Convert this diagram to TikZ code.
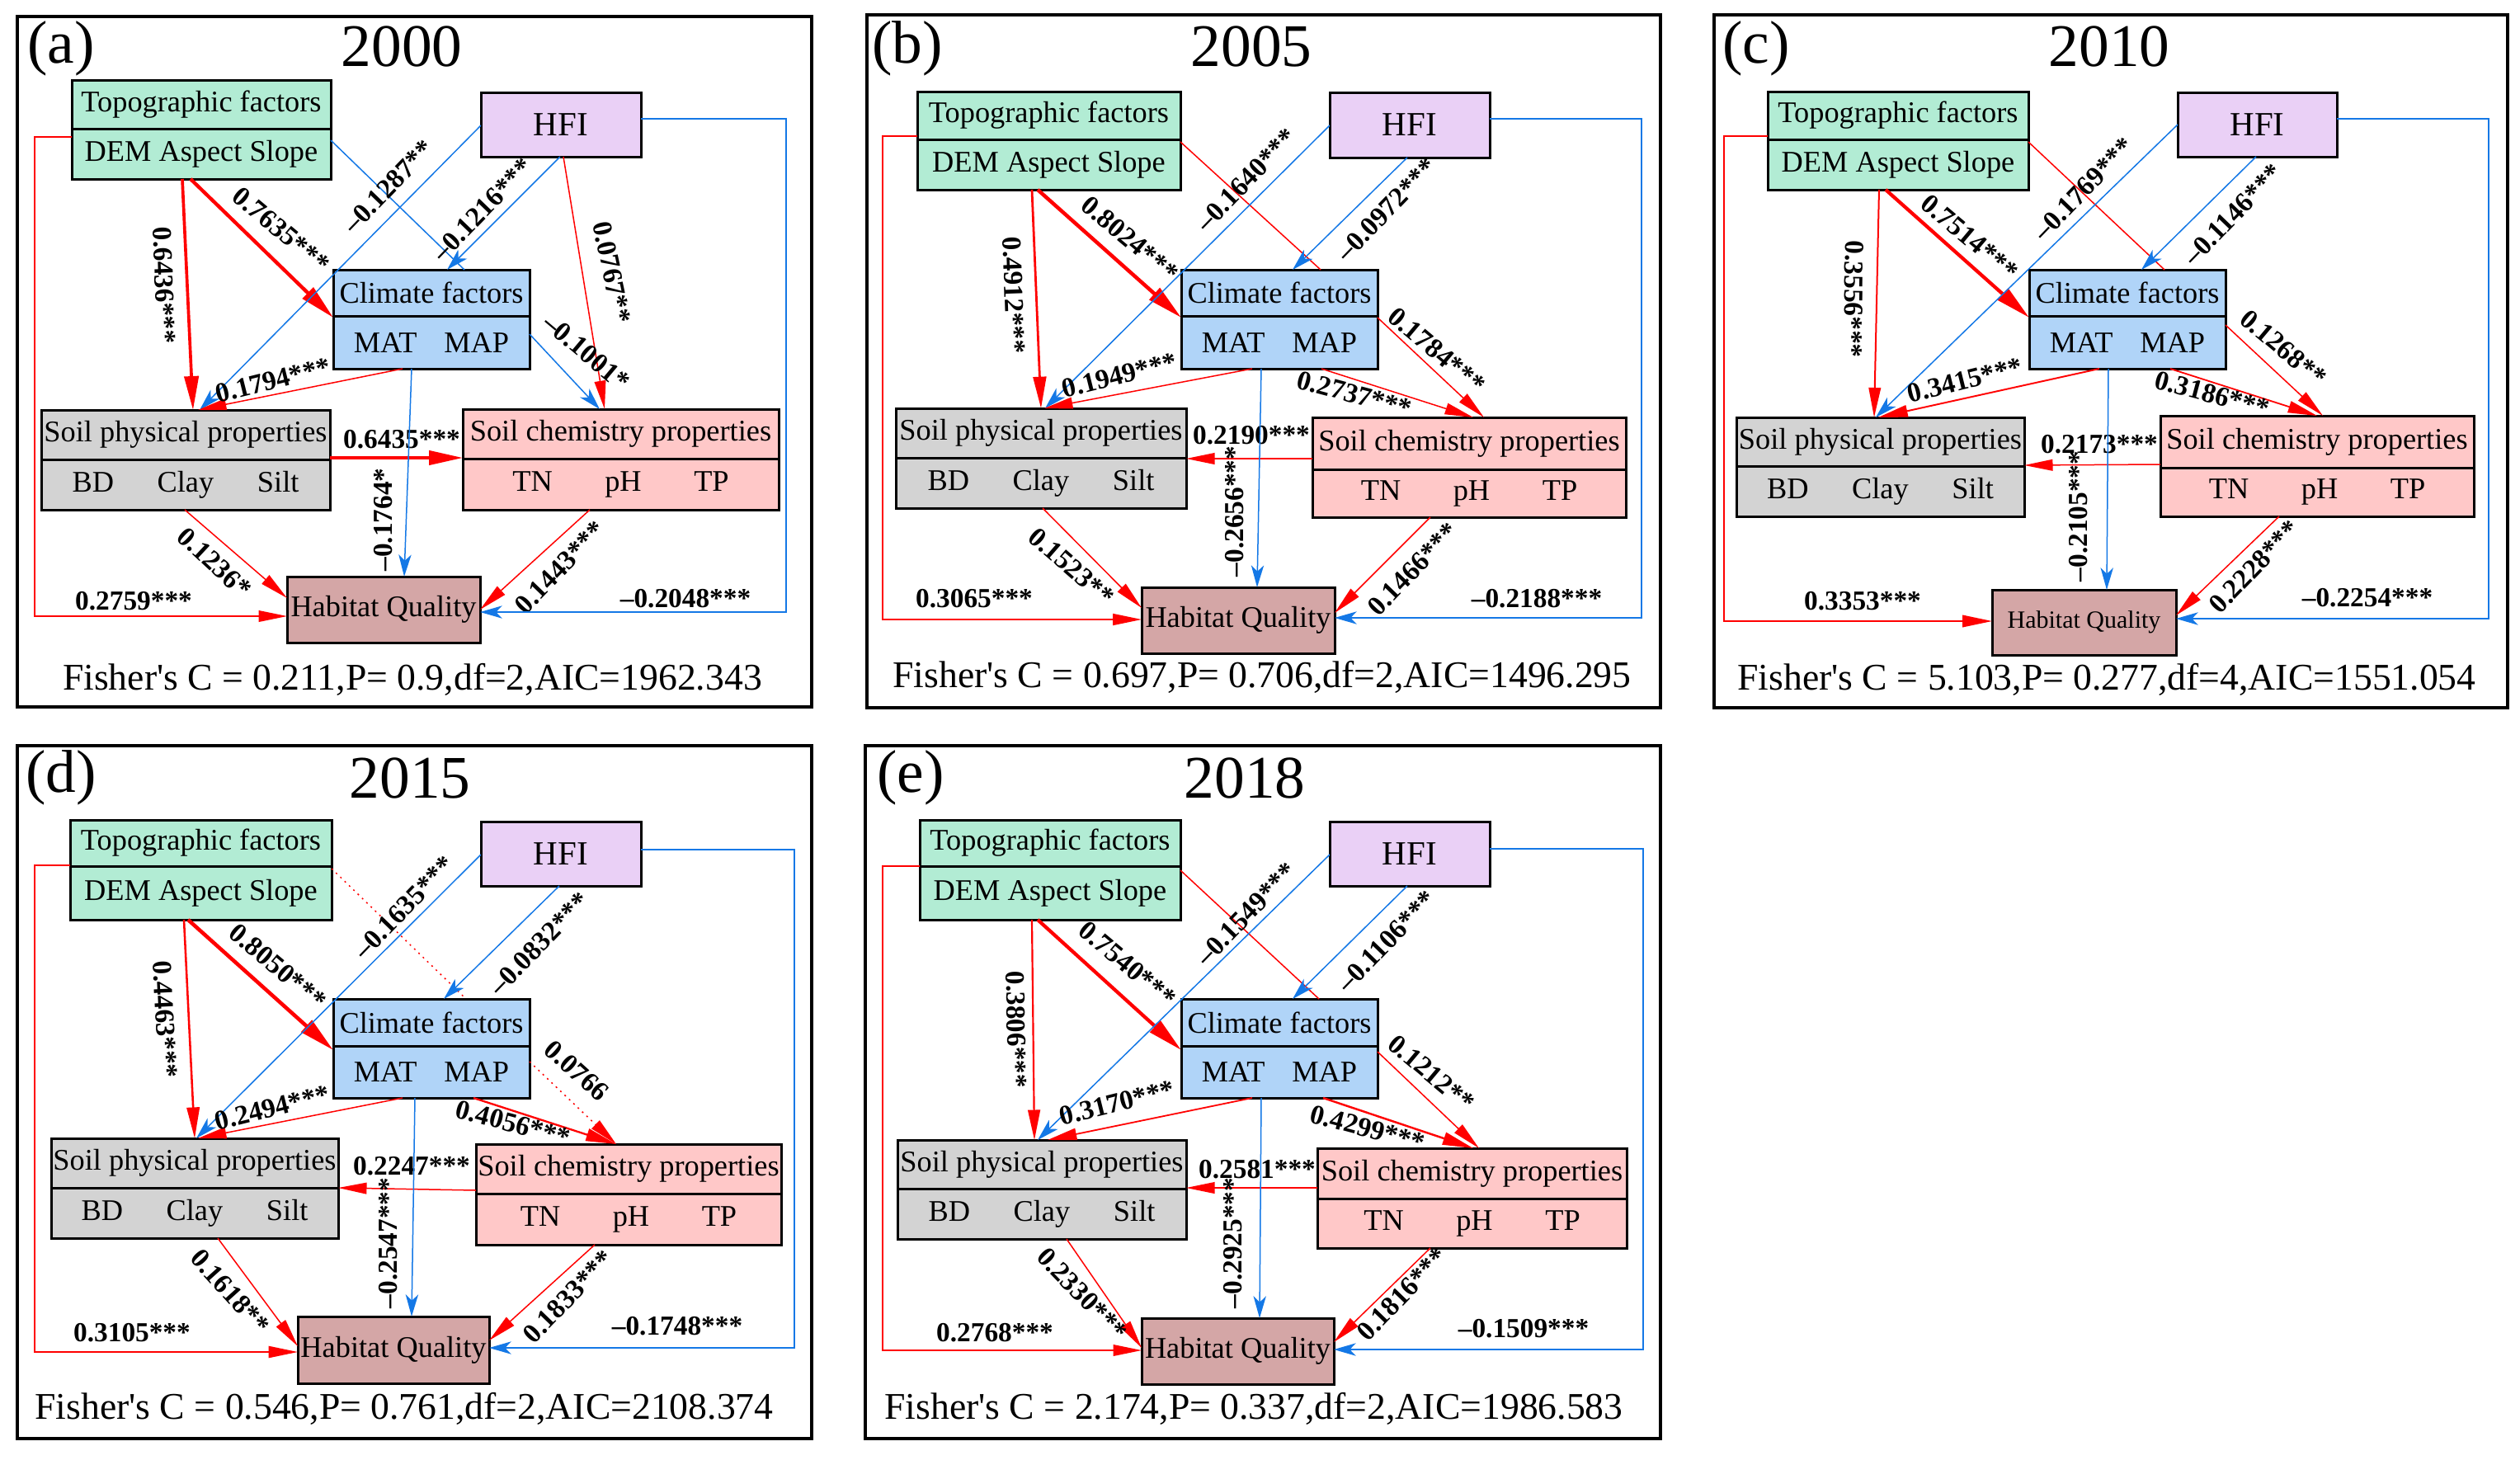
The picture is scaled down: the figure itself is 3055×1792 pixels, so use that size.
\documentclass[tikz,border=0pt]{standalone}
\usepackage{fontspec}
\setmainfont{Liberation Serif}
\newfontfamily\plainserif{Liberation Serif}
\usetikzlibrary{arrows.meta,fit,calc}
\definecolor{topoc}{RGB}{178,236,212}
\definecolor{hfic}{RGB}{234,208,246}
\definecolor{climc}{RGB}{176,212,248}
\definecolor{physc}{RGB}{211,211,211}
\definecolor{chemc}{RGB}{255,200,200}
\definecolor{hqc}{RGB}{212,166,166}
\definecolor{myred}{RGB}{255,0,0}
\definecolor{myblue}{RGB}{20,120,230}
\tikzset{
  pframe/.style={draw=black,line width=1.3pt},
  boxbase/.style={draw=black,line width=0.9pt,inner sep=0pt,outer sep=0pt,rectangle},
  boxtxt/.style={inner sep=0pt,font=\fontsize{10.9}{13}\selectfont},
  ttl/.style={inner sep=0pt,font=\fontsize{22}{26}\selectfont},
  fisher/.style={inner sep=0pt,font=\plainserif\fontsize{13.7}{16}\selectfont},
  lab/.style={inner sep=0pt,font=\bfseries\fontsize{10}{12}\selectfont},
  rarr/.style={draw=myred,line width=#1,-{Triangle[length=9pt 3,width=3.4pt 1.6]}},
  rarr/.default=0.45pt,
  barr/.style={draw=myblue,line width=0.45pt,-{Stealth[length=8pt,width=4.6pt,inset=2.2pt]}},
  rline/.style={draw=myred,line width=0.45pt},
  bline/.style={draw=myblue,line width=0.45pt},
  rdot/.style={dash pattern=on 0.6pt off 1.6pt},
}
\newcommand\twobox[9]{%
  \node[boxbase,fill=#7,fit={(#2,#3) (#4,#5)}] (#1) {};
  \draw[boxbase] (#1.west |- 0,#6) -- (#1.east |- 0,#6);
  \node[boxtxt] (#1-top) at ($(#1.north)!0.5!(#1.north |- 0,#6)$) {#8};
  \node[boxtxt] (#1-bot) at ($(#1.south)!0.5!(#1.south |- 0,#6)$) {#9};
}
\newcommand\onebox[7]{%
  \node[boxbase,fill=#6,fit={(#2,#3) (#4,#5)}] (#1) {};
  \node[boxtxt] (#1-t) at (#1.center) {#7};
}
\newcommand\hfitext{\fontsize{12.3}{14}\selectfont HFI}
\begin{document}
\begin{tikzpicture}[x=0.3pt,y=-0.3pt]
\useasboundingbox (0,0) rectangle (3055,1792);
\fill[white] (0,0) rectangle (3055,1792);

% ---------------- (a) 2000 ----------------
\begin{scope}[shift={(21,20)}]
\draw[pframe] (0,0) rectangle (963,837);
\node[ttl] (a-tag) at (53,39) {(a)};
\node[ttl] (a-year) at (466,36) {2000};
\twobox{a-topo}{66}{77}{380}{197}{136}{topoc}{Topographic factors}{DEM Aspect Slope}
\onebox{a-hfi}{562}{92}{756}{170}{hfic}{\hfitext}
\twobox{a-clim}{383}{307}{621}{427}{363}{climc}{Climate factors}{MAT\hspace{0.9em}MAP}
\twobox{a-phys}{29}{477}{379}{598}{537}{physc}{Soil physical properties}{BD\hspace{1.45em}Clay\hspace{1.45em}Silt\hspace{1.2em}}
\twobox{a-chem}{540}{476}{923}{598}{536}{chemc}{Soil chemistry properties}{TN\hspace{1.75em}pH\hspace{1.75em}TP\hspace{1.4em}}
\onebox{a-hq}{327}{679}{561}{759}{hqc}{Habitat Quality}
\node[fisher] (a-fisher) at (479,804) {Fisher's C = 0.211,P= 0.9,df=2,AIC=1962.343};
\draw[rarr=1.3pt] (a-topo.south -| 210,0) -- (a-clim.west |- 0,365);
\node[lab,rotate=-40] (a-l1) at (320,259) {0.7635***};
\draw[rarr=1.1pt] (a-topo.south -| 200,0) -- (a-phys.north -| 213,0);
\node[lab,rotate=-88] (a-l2) at (178,326) {0.6436***};
\draw[bline] (a-topo.east |- 0,150) -- (a-clim.north -| 542,0);
\draw[barr] (a-hfi.south -| 658,0) -- (a-clim.north -| 521,0);
\node[lab,rotate=46] (a-l4) at (564,234) {--0.1216***};
\draw[barr] (a-hfi.west |- 0,132) -- (a-phys.north -| 221,0);
\node[lab,rotate=46] (a-l5) at (450,206) {--0.1287**};
\draw[rarr] (a-hfi.south -| 662,0) -- (a-chem.north -| 712,0);
\node[lab,rotate=-78] (a-l6) at (721,310) {0.0767**};
\draw[rarr] (a-clim.south -| 467,0) -- (a-phys.north -| 219,0);
\node[lab,rotate=14] (a-l7) at (310,441) {0.1794***};
\draw[barr] (a-clim.east |- 0,385) -- (a-chem.north -| 706,0);
\node[lab,rotate=-40] (a-l8) at (690,407) {--0.1001*};
\draw[rarr=1.1pt] (a-phys.east |- 0,535) -- (a-chem.west |- 0,535);
\node[lab] (a-l9) at (466,513) {0.6435***};
\draw[barr] (a-clim.south -| 478,0) -- (a-hq.north -| 469,0);
\node[lab,rotate=90] (a-l10) at (444,610) {--0.1764*};
\draw[rarr] (a-phys.south -| 203,0) -- (a-hq.west |- 0,705);
\node[lab,rotate=-43] (a-l11) at (239,662) {0.1236*};
\draw[rarr] (a-chem.south -| 694,0) -- (a-hq.east |- 0,719);
\node[lab,rotate=46] (a-l12) at (658,668) {0.1443***};
\draw[rarr] (a-topo.west |- 0,146) -- (21,146) -- (21,727) -- (a-hq.west |- 0,727);
\node[lab] (a-l13) at (141,709) {0.2759***};
\draw[barr] (a-hfi.east |- 0,124) -- (932,124) -- (932,722) -- (a-hq.east |- 0,722);
\node[lab] (a-l14) at (810,706) {--0.2048***};
\end{scope}

% ---------------- (b) 2005 ----------------
\begin{scope}[shift={(1051,18)}]
\draw[pframe] (0,0) rectangle (962,840);
\node[ttl] (b-tag) at (49,41) {(b)};
\node[ttl] (b-year) at (466,38) {2005};
\twobox{b-topo}{61}{93}{380}{212}{151}{topoc}{Topographic factors}{DEM Aspect Slope}
\onebox{b-hfi}{561}{94}{755}{173}{hfic}{\hfitext}
\twobox{b-clim}{381}{309}{619}{429}{365}{climc}{Climate factors}{MAT\hspace{0.9em}MAP}
\twobox{b-phys}{35}{477}{387}{598}{537}{physc}{Soil physical properties}{BD\hspace{1.45em}Clay\hspace{1.45em}Silt}
\twobox{b-chem}{540}{488}{920}{609}{551}{chemc}{Soil chemistry properties}{TN\hspace{1.75em}pH\hspace{1.75em}TP\hspace{0.45em}}
\onebox{b-hq}{333}{694}{567}{774}{hqc}{Habitat Quality}
\node[fisher] (b-fisher) at (479,803) {Fisher's C = 0.697,P= 0.706,df=2,AIC=1496.295};
\draw[rarr=1.35pt] (b-topo.south -| 207,0) -- (b-clim.west |- 0,367);
\node[lab,rotate=-40] (b-l1) at (319,272) {0.8024***};
\draw[rarr=0.83pt] (b-topo.south -| 200,0) -- (b-phys.north -| 211,0);
\node[lab,rotate=-88] (b-l2) at (178,340) {0.4912***};
\draw[rline] (b-topo.east |- 0,154) -- (b-clim.north -| 550,0);
\draw[barr] (b-hfi.south -| 655,0) -- (b-clim.north -| 516,0);
\node[lab,rotate=46] (b-l4) at (630,236) {--0.0972***};
\draw[barr] (b-hfi.west |- 0,134) -- (b-phys.north -| 216,0);
\node[lab,rotate=46] (b-l5) at (460,200) {--0.1640***};
\draw[rarr] (b-clim.south -| 467,0) -- (b-phys.north -| 215,0);
\node[lab,rotate=14] (b-l6) at (306,437) {0.1949***};
\draw[rarr] (b-clim.east |- 0,367) -- (b-chem.north -| 748,0);
\node[lab,rotate=-40] (b-l7) at (691,407) {0.1784***};
\draw[rarr] (b-clim.south -| 551,0) -- (b-chem.north -| 735,0);
\node[lab,rotate=-15] (b-l8) at (591,460) {0.2737***};
\draw[rarr] (b-chem.west |- 0,538) -- (b-phys.east |- 0,538);
\node[lab] (b-l9) at (466,510) {0.2190***};
\draw[barr] (b-clim.south -| 478,0) -- (b-hq.north -| 473,0);
\node[lab,rotate=90] (b-l10) at (446,602) {--0.2656***};
\draw[rarr] (b-phys.south -| 213,0) -- (b-hq.west |- 0,719);
\node[lab,rotate=-41] (b-l11) at (248,669) {0.1523**};
\draw[rarr] (b-chem.south -| 683,0) -- (b-hq.east |- 0,725);
\node[lab,rotate=46] (b-l12) at (662,672) {0.1466***};
\draw[rarr=0.5pt] (b-topo.west |- 0,147) -- (19,147) -- (19,733) -- (b-hq.west |- 0,733);
\node[lab] (b-l13) at (130,708) {0.3065***};
\draw[barr] (b-hfi.east |- 0,126) -- (939,126) -- (939,731) -- (b-hq.east |- 0,731);
\node[lab] (b-l14) at (812,708) {--0.2188***};
\end{scope}

% ---------------- (c) 2010 ----------------
\begin{scope}[shift={(2078,18)}]
\draw[pframe] (0,0) rectangle (962,840);
\node[ttl] (c-tag) at (51,41) {(c)};
\node[ttl] (c-year) at (479,38) {2010};
\twobox{c-topo}{65}{93}{381}{212}{151}{topoc}{Topographic factors}{DEM Aspect Slope}
\onebox{c-hfi}{562}{94}{755}{172}{hfic}{\hfitext}
\twobox{c-clim}{382}{309}{620}{429}{365}{climc}{Climate factors}{MAT\hspace{0.9em}MAP}
\twobox{c-phys}{27}{488}{376}{608}{547}{physc}{Soil physical properties}{BD\hspace{1.45em}Clay\hspace{1.45em}Silt}
\twobox{c-chem}{541}{486}{921}{608}{549}{chemc}{Soil chemistry properties}{TN\hspace{1.75em}pH\hspace{1.75em}TP\hspace{1.4em}}
\onebox{c-hq}{337}{697}{560}{776}{hqc}{\fontsize{9}{11}\selectfont Habitat Quality}
\node[fisher] (c-fisher) at (476,806) {Fisher's C = 5.103,P= 0.277,df=4,AIC=1551.054};
\draw[rarr=1.28pt] (c-topo.south -| 208,0) -- (c-clim.west |- 0,367);
\node[lab,rotate=-40] (c-l1) at (310,270) {0.7514***};
\draw[rarr=0.6pt] (c-topo.south -| 200,0) -- (c-phys.north -| 194,0);
\node[lab,rotate=-91] (c-l2) at (169,345) {0.3556***};
\draw[rline] (c-topo.east |- 0,154) -- (c-clim.north -| 546,0);
\draw[barr] (c-hfi.south -| 657,0) -- (c-clim.north -| 518,0);
\node[lab,rotate=46] (c-l4) at (629,242) {--0.1146***};
\draw[barr] (c-hfi.west |- 0,133) -- (c-phys.north -| 196,0);
\node[lab,rotate=46] (c-l5) at (448,211) {--0.1769***};
\draw[rarr=0.58pt] (c-clim.south -| 467,0) -- (c-phys.north -| 199,0);
\node[lab,rotate=14] (c-l6) at (304,443) {0.3415***};
\draw[rarr] (c-clim.east |- 0,376) -- (c-chem.north -| 738,0);
\node[lab,rotate=-40] (c-l7) at (690,404) {0.1268**};
\draw[rarr=0.54pt] (c-clim.south -| 553,0) -- (c-chem.north -| 731,0);
\node[lab,rotate=-15] (c-l8) at (604,460) {0.3186***};
\draw[rarr] (c-chem.west |- 0,545) -- (c-phys.east |- 0,546);
\node[lab] (c-l9) at (467,521) {0.2173***};
\draw[barr] (c-clim.south -| 478,0) -- (c-hq.north -| 476,0);
\node[lab,rotate=90] (c-l10) at (442,608) {--0.2105***};
\draw[rarr] (c-chem.south -| 685,0) -- (c-hq.east |- 0,728);
\node[lab,rotate=46] (c-l11) at (655,669) {0.2228***};
\draw[rarr=0.6pt] (c-topo.west |- 0,147) -- (12,147) -- (12,735) -- (c-hq.west |- 0,735);
\node[lab] (c-l13) at (180,711) {0.3353***};
\draw[barr] (c-hfi.east |- 0,126) -- (939,126) -- (939,732) -- (c-hq.east |- 0,732);
\node[lab] (c-l14) at (792,707) {--0.2254***};
\end{scope}

% ---------------- (d) 2015 ----------------
\begin{scope}[shift={(21,904)}]
\draw[pframe] (0,0) rectangle (963,840);
\node[ttl] (d-tag) at (53,39) {(d)};
\node[ttl] (d-year) at (476,39) {2015};
\twobox{d-topo}{64}{90}{381}{211}{146}{topoc}{Topographic factors}{DEM Aspect Slope}
\onebox{d-hfi}{562}{92}{756}{170}{hfic}{\hfitext}
\twobox{d-clim}{383}{307}{621}{427}{364}{climc}{Climate factors}{MAT\hspace{0.9em}MAP}
\twobox{d-phys}{41}{476}{389}{597}{536}{physc}{Soil physical properties}{BD\hspace{1.45em}Clay\hspace{1.45em}Silt}
\twobox{d-chem}{556}{483}{926}{605}{543}{chemc}{Soil chemistry properties}{TN\hspace{1.75em}pH\hspace{1.75em}TP\hspace{1.05em}}
\onebox{d-hq}{340}{692}{572}{773}{hqc}{Habitat Quality}
\node[fisher] (d-fisher) at (469,804) {Fisher's C = 0.546,P= 0.761,df=2,AIC=2108.374};
\draw[rarr=1.37pt] (d-topo.south -| 207,0) -- (d-clim.west |- 0,369);
\node[lab,rotate=-40] (d-l1) at (316,268) {0.8050***};
\draw[rarr=0.76pt] (d-topo.south -| 202,0) -- (d-phys.north -| 215,0);
\node[lab,rotate=-87] (d-l2) at (179,332) {0.4463***};
\draw[rline,rdot] (d-topo.east |- 0,149) -- (d-clim.north -| 544,0);
\draw[barr] (d-hfi.south -| 657,0) -- (d-clim.north -| 517,0);
\node[lab,rotate=46] (d-l4) at (633,240) {--0.0832***};
\draw[barr] (d-hfi.west |- 0,132) -- (d-phys.north -| 217,0);
\node[lab,rotate=46] (d-l5) at (469,196) {--0.1635***};
\draw[rarr] (d-clim.south -| 467,0) -- (d-phys.north -| 219,0);
\node[lab,rotate=14] (d-l6) at (309,439) {0.2494***};
\draw[rarr,rdot] (d-clim.east |- 0,383) -- (d-chem.north -| 726,0);
\node[lab,rotate=-42] (d-l7) at (678,394) {0.0766};
\draw[rarr=0.69pt] (d-clim.south -| 553,0) -- (d-chem.north -| 726,0);
\node[lab,rotate=-15] (d-l8) at (601,458) {0.4056***};
\draw[rarr] (d-chem.west |- 0,539) -- (d-phys.east |- 0,536);
\node[lab] (d-l9) at (478,510) {0.2247***};
\draw[barr] (d-clim.south -| 482,0) -- (d-hq.north -| 478,0);
\node[lab,rotate=90] (d-l10) at (450,603) {--0.2547***};
\draw[rarr] (d-phys.south -| 243,0) -- (d-hq.west |- 0,728);
\node[lab,rotate=-48] (d-l11) at (258,662) {0.1618**};
\draw[rarr] (d-chem.south -| 700,0) -- (d-hq.east |- 0,721);
\node[lab,rotate=46] (d-l12) at (668,668) {0.1833***};
\draw[rarr=0.53pt] (d-topo.west |- 0,145) -- (21,145) -- (21,735) -- (d-hq.west |- 0,735);
\node[lab] (d-l13) at (139,712) {0.3105***};
\draw[barr] (d-hfi.east |- 0,126) -- (942,126) -- (942,730) -- (d-hq.east |- 0,730);
\node[lab] (d-l14) at (800,704) {--0.1748***};
\end{scope}

% ---------------- (e) 2018 ----------------
\begin{scope}[shift={(1049,904)}]
\draw[pframe] (0,0) rectangle (964,840);
\node[ttl] (e-tag) at (55,39) {(e)};
\node[ttl] (e-year) at (460,39) {2018};
\twobox{e-topo}{66}{90}{382}{211}{146}{topoc}{Topographic factors}{DEM Aspect Slope}
\onebox{e-hfi}{563}{92}{757}{170}{hfic}{\hfitext}
\twobox{e-clim}{383}{307}{621}{427}{364}{climc}{Climate factors}{MAT\hspace{0.9em}MAP}
\twobox{e-phys}{39}{478}{389}{598}{537}{physc}{Soil physical properties}{BD\hspace{1.45em}Clay\hspace{1.45em}Silt\hspace{1.15em}}
\twobox{e-chem}{548}{488}{923}{609}{549}{chemc}{Soil chemistry properties}{TN\hspace{1.75em}pH\hspace{1.75em}TP\hspace{0.55em}}
\onebox{e-hq}{335}{694}{568}{774}{hqc}{Habitat Quality}
\node[fisher] (e-fisher) at (471,804) {Fisher's C = 2.174,P= 0.337,df=2,AIC=1986.583};
\draw[rarr=1.28pt] (e-topo.south -| 209,0) -- (e-clim.west |- 0,369);
\node[lab,rotate=-40] (e-l1) at (318,265) {0.7540***};
\draw[rarr=0.65pt] (e-topo.south -| 202,0) -- (e-phys.north -| 205,0);
\node[lab,rotate=-89] (e-l2) at (183,344) {0.3806***};
\draw[rline] (e-topo.east |- 0,151) -- (e-clim.north -| 550,0);
\draw[barr] (e-hfi.south -| 657,0) -- (e-clim.north -| 518,0);
\node[lab,rotate=46] (e-l4) at (632,237) {--0.1106***};
\draw[barr] (e-hfi.west |- 0,132) -- (e-phys.north -| 209,0);
\node[lab,rotate=46] (e-l5) at (462,204) {--0.1549***};
\draw[rarr=0.54pt] (e-clim.south -| 469,0) -- (e-phys.north -| 221,0);
\node[lab,rotate=14] (e-l6) at (305,433) {0.3170***};
\draw[rarr] (e-clim.east |- 0,371) -- (e-chem.north -| 744,0);
\node[lab,rotate=-40] (e-l7) at (686,397) {0.1212**};
\draw[rarr=0.73pt] (e-clim.south -| 555,0) -- (e-chem.north -| 737,0);
\node[lab,rotate=-15] (e-l8) at (609,464) {0.4299***};
\draw[rarr] (e-chem.west |- 0,536) -- (e-phys.east |- 0,536);
\node[lab] (e-l9) at (475,514) {0.2581***};
\draw[barr] (e-clim.south -| 480,0) -- (e-hq.north -| 478,0);
\node[lab,rotate=90] (e-l10) at (446,603) {--0.2925***};
\draw[rarr] (e-phys.south -| 244,0) -- (e-hq.west |- 0,730);
\node[lab,rotate=-46] (e-l11) at (263,665) {0.2330***};
\draw[rarr] (e-chem.south -| 685,0) -- (e-hq.east |- 0,723);
\node[lab,rotate=46] (e-l12) at (651,665) {0.1816***};
\draw[rarr] (e-topo.west |- 0,146) -- (21,146) -- (21,733) -- (e-hq.west |- 0,733);
\node[lab] (e-l13) at (157,712) {0.2768***};
\draw[barr] (e-hfi.east |- 0,125) -- (943,125) -- (943,732) -- (e-hq.east |- 0,732);
\node[lab] (e-l14) at (798,707) {--0.1509***};
\end{scope}
\end{tikzpicture}
\end{document}
